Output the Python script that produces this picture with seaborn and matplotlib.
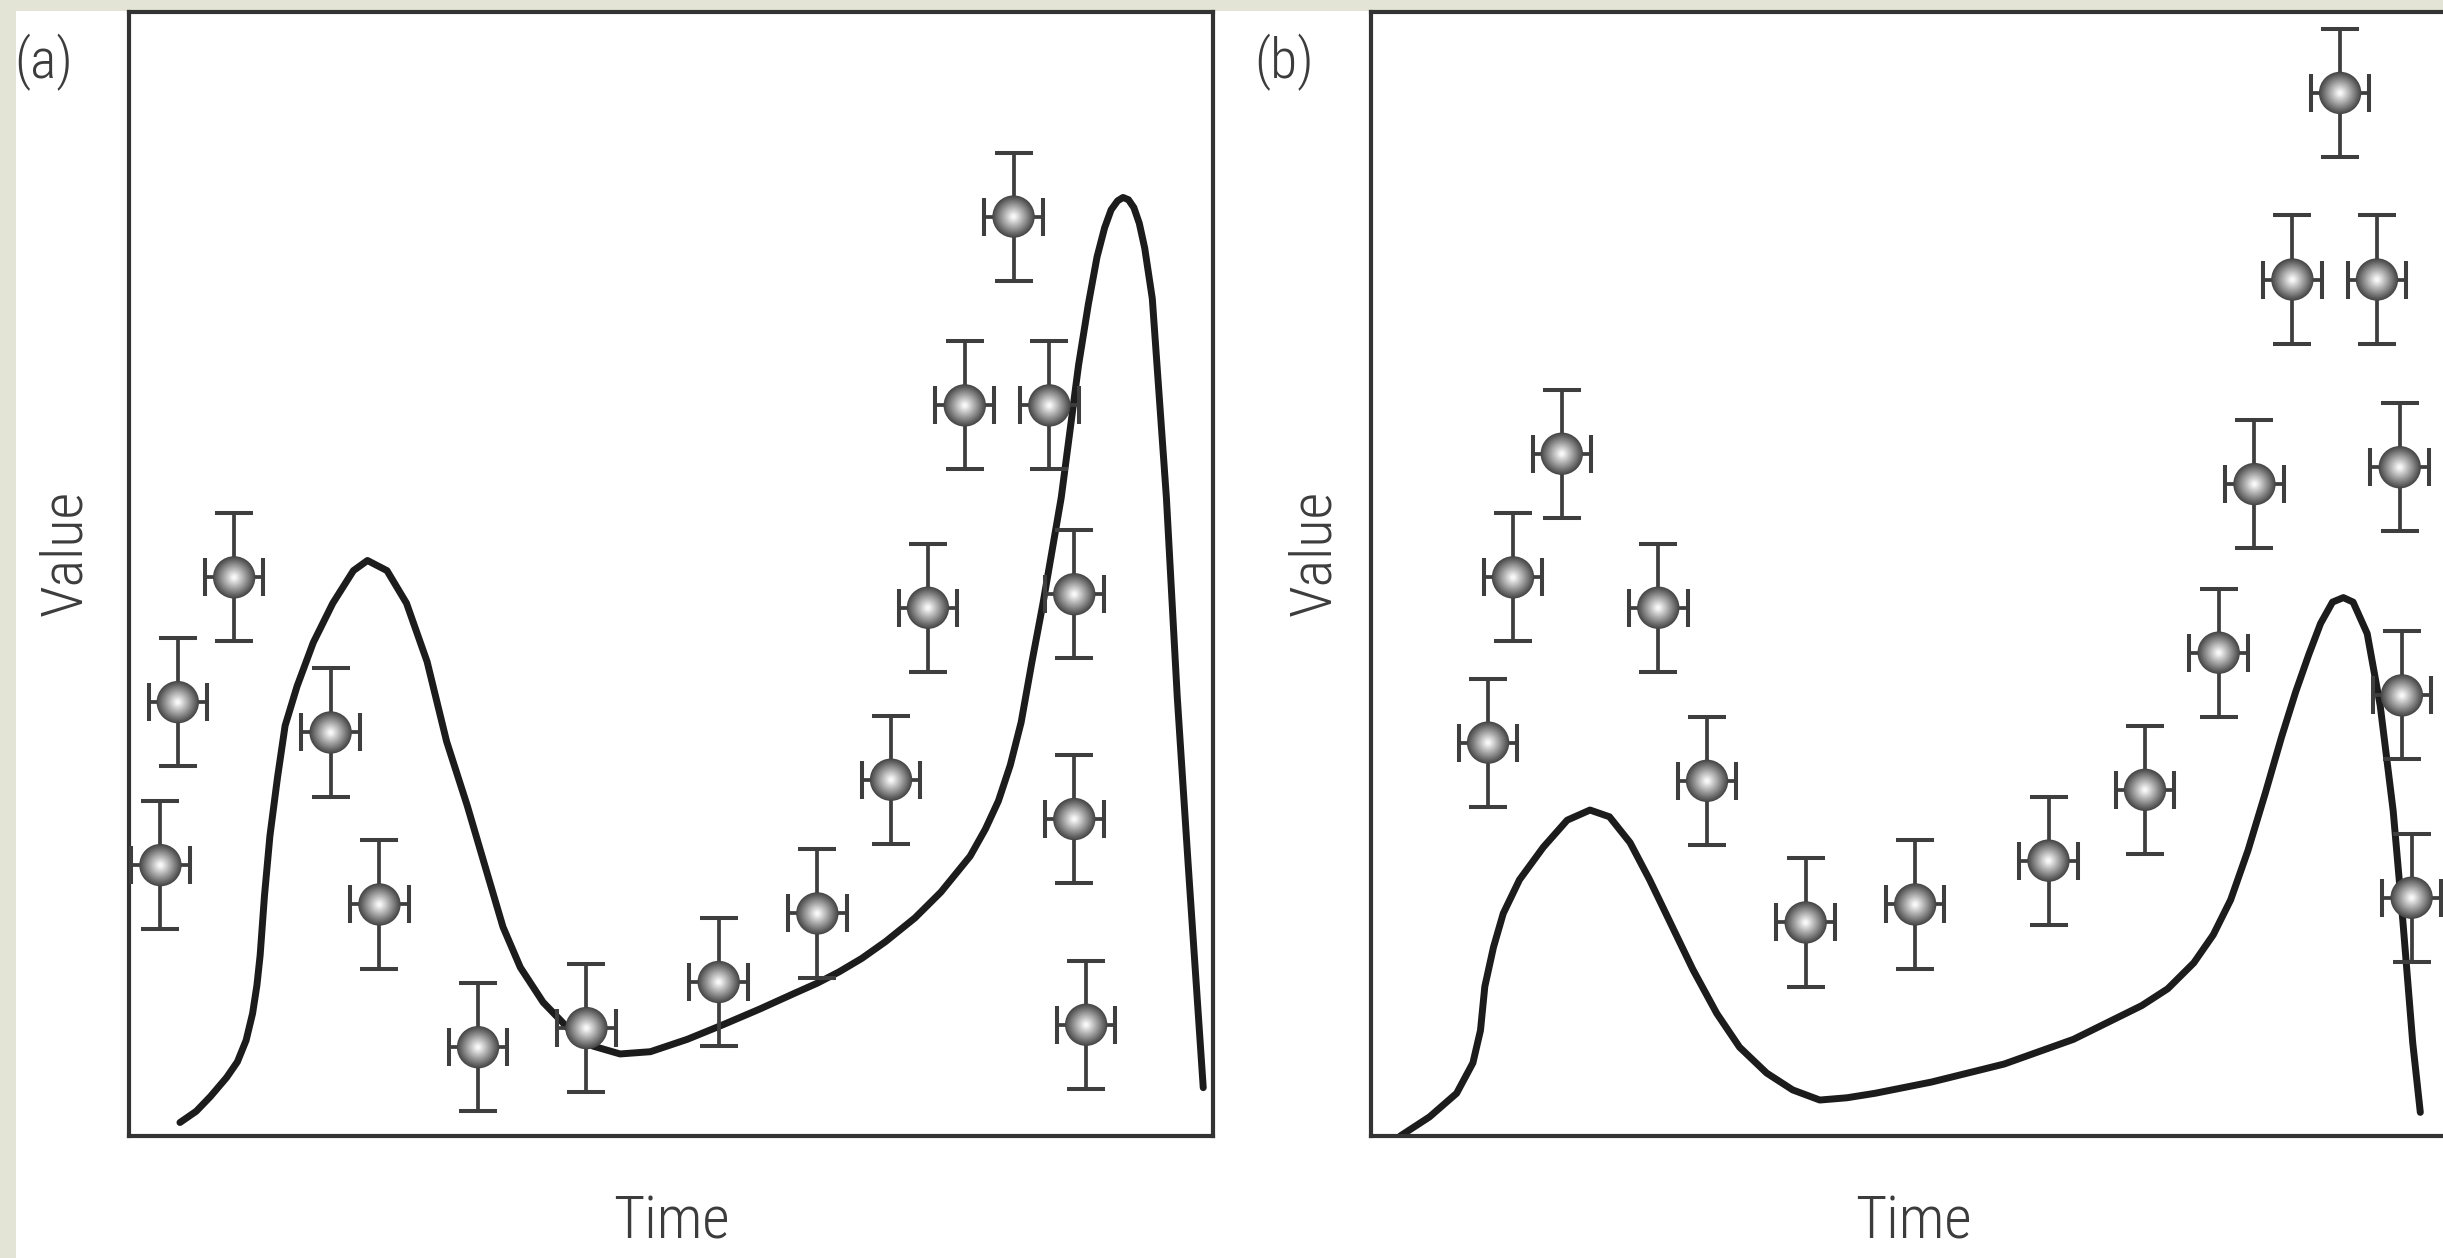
import numpy as np
import pandas as pd
import matplotlib
matplotlib.use("Agg")
import matplotlib.pyplot as plt
from matplotlib import font_manager
from matplotlib.patches import Rectangle
import seaborn as sns

# ---- data (arbitrary units, 0-100 on both axes) ----
obs_a_time = [2.9, 4.5, 9.7, 18.6, 23.1, 32.2, 42.2, 54.4, 63.5, 70.3, 73.7, 77.1, 81.6, 84.9, 87.2, 87.2, 88.3]
obs_a_value = [24.1, 38.6, 49.7, 35.9, 20.6, 7.9, 9.6, 13.7, 19.8, 31.7, 47.0, 65.0, 81.8, 65.0, 48.2, 28.2, 9.9]

obs_b_time = [10.8, 13.1, 17.6, 26.5, 31.0, 40.1, 50.2, 62.5, 71.4, 78.2, 81.5, 85.0, 89.4, 92.8, 94.9, 95.1, 96.0]
obs_b_value = [35.0, 49.7, 60.7, 47.0, 31.6, 19.0, 20.6, 24.5, 30.8, 43.0, 58.0, 76.2, 92.8, 76.2, 59.5, 39.2, 21.2]

time_err = 2.7
value_err = 5.7

model_a_time = [4.7, 6.2, 7.5, 9.0, 10.0, 10.8, 11.4, 11.8, 12.1, 12.5, 13.0, 13.7, 14.4, 15.5,
                17.0, 18.8, 20.7, 22.0, 23.8, 25.6, 27.5, 29.3, 31.2, 33.0, 34.5, 36.1, 38.2,
                40.7, 42.8, 45.3, 48.1, 51.5, 54.8, 58.2, 61.4, 63.5, 65.5, 67.6, 69.8, 72.5,
                74.9, 77.6, 79.0, 80.2, 81.3, 82.3, 83.3, 84.3, 86.0, 87.6, 88.5, 89.3, 90.0,
                90.6, 91.2, 91.7, 92.2, 92.7, 93.2, 93.7, 94.4, 95.7, 96.7, 97.7, 99.1]
model_a_value = [1.2, 2.2, 3.5, 5.2, 6.6, 8.5, 10.9, 13.4, 16.1, 21.4, 26.7, 31.9, 36.5, 40.0,
                 43.9, 47.4, 50.3, 51.2, 50.3, 47.4, 42.2, 35.1, 29.4, 23.5, 18.6, 15.0, 11.9,
                 9.4, 8.0, 7.3, 7.5, 8.6, 9.9, 11.3, 12.7, 13.6, 14.6, 15.8, 17.3, 19.4,
                 21.7, 24.9, 27.3, 29.8, 33.0, 36.8, 42.2, 47.3, 56.8, 68.6, 74.0, 78.2, 80.8,
                 82.4, 83.2, 83.5, 83.3, 82.6, 81.2, 79.0, 74.5, 56.8, 39.1, 24.3, 4.3]

model_b_time = [2.7, 5.4, 7.9, 9.4, 10.1, 10.5, 11.3, 12.2, 13.7, 15.9, 18.1, 20.2, 22.0, 23.9,
                25.7, 27.6, 29.7, 31.9, 34.0, 36.5, 38.9, 41.4, 43.9, 46.5, 51.7, 58.4, 64.8,
                71.1, 73.5, 75.9, 77.7, 79.3, 80.9, 82.5, 84.0, 85.3, 86.5, 87.6, 88.7, 89.7,
                90.6, 91.9, 93.1, 94.3, 95.2, 96.1, 96.8]
model_b_value = [0.0, 1.7, 3.8, 6.5, 9.4, 13.3, 16.8, 19.8, 22.8, 25.7, 28.1, 29.0, 28.4, 26.1,
                 22.8, 19.0, 14.8, 10.9, 7.9, 5.6, 4.1, 3.2, 3.4, 3.8, 4.8, 6.4, 8.6,
                 11.6, 13.1, 15.4, 17.9, 21.0, 25.4, 30.5, 35.5, 39.5, 42.8, 45.6, 47.5, 47.9,
                 47.5, 44.7, 38.3, 28.9, 19.0, 8.3, 2.1]

panels = [
    ("(a)", obs_a_time, obs_a_value, model_a_time, model_a_value),
    ("(b)", obs_b_time, obs_b_value, model_b_time, model_b_value),
]

# ---- style ----
sns.set_theme(style="white")

# prefer a narrow sans face for the labels
installed = {f.name for f in font_manager.fontManager.ttflist}
narrow_candidates = ["Liberation Sans Narrow", "Roboto Condensed", "Open Sans Condensed",
                     "Noto Sans Condensed", "DejaVu Sans Condensed"]
label_family = next((n for n in narrow_candidates if n in installed), None)
has_condensed_dejavu = any(f.name == "DejaVu Sans" and f.stretch in ("condensed", 600, "semi-condensed")
                           for f in font_manager.fontManager.ttflist)
if label_family is None:
    label_family = "DejaVu Sans" if has_condensed_dejavu else "Roboto"
plt.rcParams["font.family"] = [label_family, "DejaVu Sans"]
label_kw = dict(family=[label_family, "DejaVu Sans"], weight="light")
if label_family == "DejaVu Sans":
    label_kw["stretch"] = "condensed"

W, H = 2443, 1258
fig = plt.figure(figsize=(W / 100, H / 100), dpi=100)
fig.patch.set_facecolor("#e3e4d6")
fig.patches.append(Rectangle((16 / W, 0), 1 - 16 / W, 1 - 11 / H, transform=fig.transFigure,
                             facecolor="white", edgecolor="none", zorder=-10))

text_color = "#3c3c3c"
line_color = "#1c1c1c"
bar_color = "#3e3e3e"

ax_w = 1084 / W
ax_h = 1124 / H
ax_bottom = (H - 1136) / H
lefts = [129 / W, 1371 / W]
label_x = [44, 1284]
ylabel_x = [66, 1315]

# radial shading layers for the ball markers (outer dark -> inner bright)
n_layers = 18
layer_sizes = np.linspace(30.5, 3.0, n_layers) ** 2
layer_grays = np.linspace(0.28, 0.97, n_layers)

for i, (tag, ox, oy, mx, my) in enumerate(panels):
    ax = fig.add_axes([lefts[i], ax_bottom, ax_w, ax_h])
    ax.set_facecolor("white")
    for sp in ax.spines.values():
        sp.set_visible(True)
        sp.set_color("#333333")
        sp.set_linewidth(3.0)

    model = pd.DataFrame({"Time": mx, "Value": my})
    sns.lineplot(data=model, x="Time", y="Value", ax=ax, color=line_color, lw=5.0,
                 sort=False, estimator=None, zorder=2)
    for ln in ax.lines:
        ln.set_solid_joinstyle("round")
        ln.set_solid_capstyle("round")

    ax.errorbar(ox, oy, xerr=time_err, yerr=value_err, fmt="none", ecolor=bar_color,
                elinewidth=2.7, capsize=14, capthick=2.9, zorder=3)

    obs = pd.DataFrame({"Time": ox, "Value": oy})
    for s, g in zip(layer_sizes, layer_grays):
        sns.scatterplot(data=obs, x="Time", y="Value", ax=ax, s=s, color=(g, g, g),
                        linewidth=0, edgecolor="none", zorder=4, legend=False)

    ax.set_xlim(0, 100)
    ax.set_ylim(0, 100)
    ax.set_xticks([])
    ax.set_yticks([])
    ax.set_xlabel("")
    ax.set_ylabel("")

    fig.text(label_x[i] / W, 1 - 62 / H, tag, ha="center", va="center",
             fontsize=40, color=text_color, **label_kw)
    fig.text(ylabel_x[i] / W, 1 - 553 / H, "Value", rotation=90, ha="center", va="center",
             fontsize=42, color=text_color, **label_kw)
    fig.text((lefts[i] + ax_w / 2), 1 - 1222 / H, "Time", ha="center", va="center",
             fontsize=43, color=text_color, **label_kw)

fig.savefig("out.png", dpi=100, facecolor=fig.get_facecolor())
